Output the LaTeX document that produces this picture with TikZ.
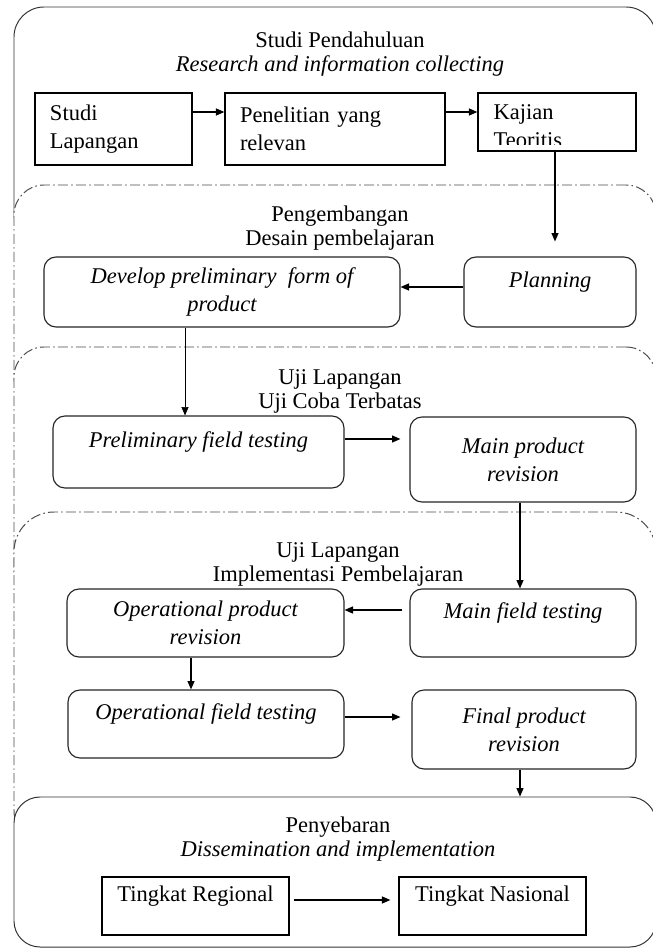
\documentclass[tikz,border=0pt]{standalone}
\usepackage{fontspec}
\setmainfont{Liberation Serif}
\usetikzlibrary{arrows.meta}

\begin{document}
\begin{tikzpicture}[
  x = 0.25mm,
  y = -0.25mm,
  font = \fontsize{16}{20}\selectfont,
  phase/.style = {
    shape = rectangle,
    rounded corners = 7.5mm,
    draw = black!80,
    fill = white,
    line width = 0.7pt,
    minimum width = 160.5mm,
    inner sep = 0pt,
  },
  phasedash/.style = {
    phase,
    draw = black!70,
    dash pattern = on 2.5mm off 0.8mm on 0.4mm off 0.8mm,
  },
  heading/.style = {
    align = center,
    font = \fontsize{16}{17}\selectfont,
  },
  sqbox/.style = {
    shape = rectangle,
    draw,
    line width = 0.9pt,
    inner xsep = 3.75mm,
    align = left,
  },
  rbox/.style = {
    shape = rectangle,
    rounded corners = 3mm,
    draw = black!85,
    line width = 0.8pt,
    align = center,
    font = \fontsize{16}{20}\selectfont\itshape,
  },
  uptext/.style = {
    inner ysep = 0pt,
    text height = 11pt,
    text depth = 17pt,
  },
  arr/.style = {
    -{Triangle[length = 6pt, width = 5pt]},
    line width = 0.8pt,
  },
]
  \useasboundingbox (0, 0) rectangle (652, 951);

  \node[phase, minimum height = 59mm] (stage1) at (335, 125) {};
  \node[phasedash, minimum height = 55.5mm] (stage2) at (335, 296) {};
  \node[phasedash, minimum height = 63.25mm] (stage3) at (335, 473.5) {};
  \node[phasedash, rounded corners = 10mm, minimum height = 84.5mm] (stage4) at (335, 681) {};
  \node[phase, rounded corners = 6.5mm, minimum height = 37.5mm] (stage5) at (335, 872) {};

  \node[heading] (head1) at (340, 54.5) {Studi Pendahuluan\\\textit{Research and information collecting}};
  \node[heading] (head2) at (340, 228.5) {Pengembangan\\Desain pembelajaran};
  \node[heading] (head3) at (340, 391.5) {Uji Lapangan\\Uji Coba Terbatas};
  \node[heading] (head4) at (338, 564.5) {Uji Lapangan\\Implementasi Pembelajaran};
  \node[heading] (head5) at (338, 839.5) {Penyebaran\\\textit{Dissemination and implementation}};

  \node[sqbox, text width = 31.75mm, minimum height = 18mm] (lapangan) at (113.5, 129) {Studi\\Lapangan};
  \node[sqbox, text width = 47.5mm, minimum height = 18mm] (relevan) at (335, 129) {Penelitian yang\\relevan};
  \node[sqbox, inner sep = 0pt, minimum width = 39.5mm, minimum height = 14.5mm, path picture = {
      \clip ([yshift = 1.5mm]path picture bounding box.south west) rectangle (path picture bounding box.north east);
      \node[draw = none, fill = none, minimum size = 0pt, text width = 30mm, anchor = north west, inner sep = 0pt, align = left]
        at ([xshift = 3.75mm, yshift = -2.7mm]path picture bounding box.north west) {Kajian\\Teoritis};
    }] (kajian) at (557, 122) {};

  \node[rbox, minimum width = 89mm, minimum height = 17.5mm] (develop) at (222, 292) {Develop preliminary~ form of\\product};
  \node[rbox, uptext, minimum width = 43mm, minimum height = 17.5mm] (planning) at (550, 292) {Planning};

  \node[rbox, uptext, minimum width = 72.75mm, minimum height = 18mm] (prelim) at (198.5, 452) {Preliminary field testing};
  \node[rbox, minimum width = 56.5mm, minimum height = 21.25mm] (mainrev) at (523, 459.5) {Main product\\revision};

  \node[rbox, minimum width = 69.25mm, minimum height = 17mm] (oprev) at (205.5, 623) {Operational product\\revision};
  \node[rbox, uptext, minimum width = 56.5mm, minimum height = 17mm] (mainfield) at (523, 623) {Main field testing};
  \node[rbox, uptext, minimum width = 69mm, minimum height = 17mm] (opfield) at (206, 724) {Operational field testing};
  \node[rbox, minimum width = 56mm, minimum height = 19.75mm] (finalrev) at (524, 729.5) {Final product\\revision};

  \node[sqbox, uptext, align = center, minimum width = 46.75mm, minimum height = 14.5mm] (regional) at (195.5, 906) {Tingkat Regional};
  \node[sqbox, uptext, align = center, minimum width = 46.75mm, minimum height = 14.5mm] (nasional) at (492.5, 906) {Tingkat Nasional};

  \draw[arr] (lapangan.east |- 0,112) -- (relevan.west |- 0,112);
  \draw[arr] (relevan.east |- 0,112) -- (kajian.west |- 0,112);
  \draw[arr, shorten >= 3.75mm] (kajian.south -| 555,0) -- (planning.north -| 555,0);
  \draw[arr] (planning.west |- 0,287) -- (develop.east |- 0,287);
  \draw[arr, line width = 0.5pt] (develop.south -| 185,0) -- (prelim.north -| 185,0);
  \draw[arr, shorten >= 2.25mm] (prelim.east |- 0,439) -- (mainrev.west |- 0,439);
  \draw[arr] (mainrev.south -| 520,0) -- (mainfield.north -| 520,0);
  \draw[arr, shorten <= 1.75mm] (mainfield.west |- 0,610) -- (oprev.east |- 0,610);
  \draw[arr] (oprev.south -| 191,0) -- (opfield.north -| 191,0);
  \draw[arr, shorten >= 2.75mm] (opfield.east |- 0,717) -- (finalrev.west |- 0,717);
  \draw[arr] (finalrev.south -| 520,0) -- (stage5.north -| 520,0);
  \draw[arr, shorten <= 1mm, shorten >= 2mm] (regional.east |- 0,900) -- (nasional.west |- 0,900);
\end{tikzpicture}
\end{document}
